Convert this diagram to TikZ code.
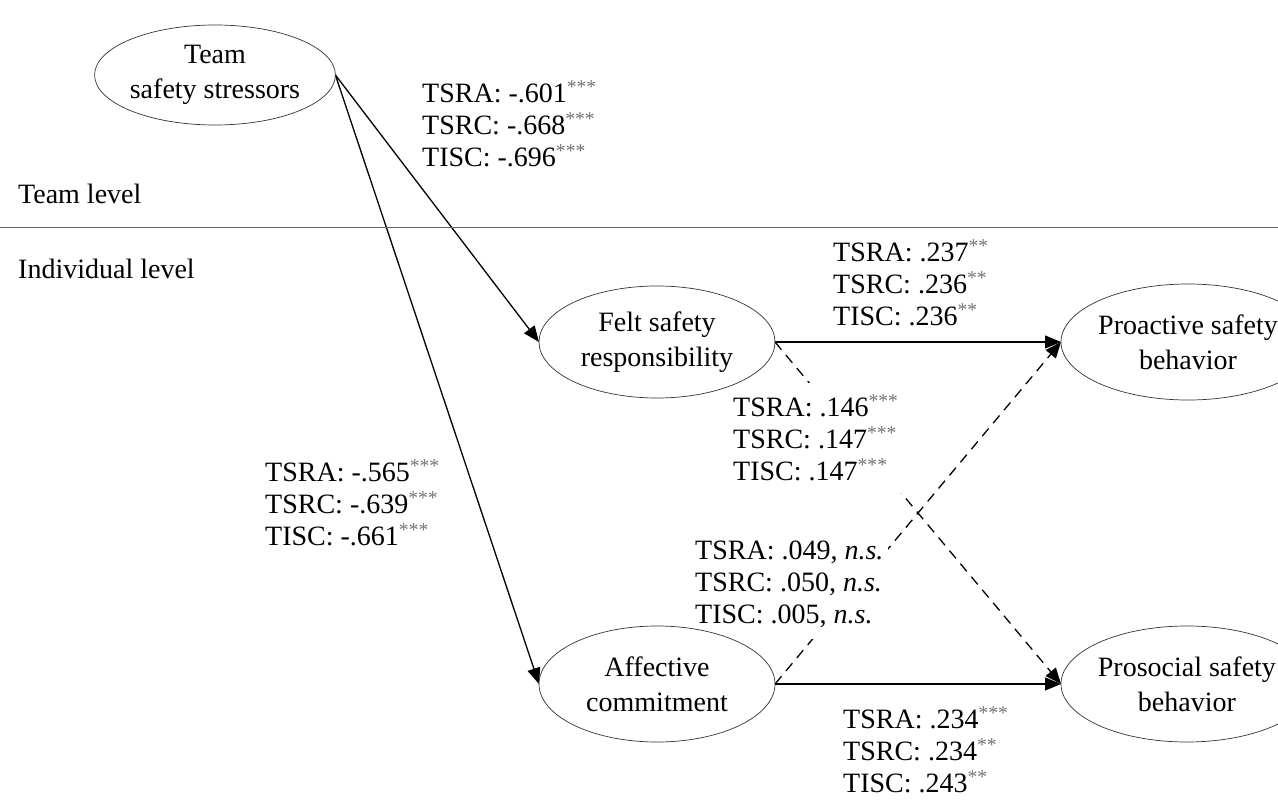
\documentclass[tikz,border=0pt]{standalone}
\usepackage{fontspec}
\setmainfont{Liberation Serif}
\usetikzlibrary{shapes.geometric, arrows.meta, positioning}

\pgfdeclarelayer{edges}
\pgfsetlayers{edges,main}

\newcommand{\sig}[1]{\textsuperscript{\textcolor{black!55}{#1}}}

\begin{document}
\begin{tikzpicture}[x=1pt, y=-1pt,
      font=\fontsize{28}{35}\selectfont,
      factor/.style={ellipse, draw=black!80, line width=0.7pt, align=center, inner sep=0pt, outer sep=0pt, minimum width=236pt, minimum height=112pt},
      coef/.style={align=left, fill=white, inner xsep=5pt, inner ysep=12pt, anchor=west, font=\fontsize{28}{32}\selectfont},
      path/.style={-{Triangle[length=16pt, width=13pt]}, line width=1.3pt},
      nspath/.style={path, dash pattern=on 10pt off 7pt}
    ]
    \useasboundingbox (0,0) rectangle (1278,802);

    % levels
    \draw[black!60, line width=1pt] (0,228) -- (1278,228);
    \node[anchor=west, inner sep=0pt] (teamlvl) at (18,194) {Team level};
    \node[anchor=west, inner sep=0pt] (indlvl) at (18,269) {Individual level};

    % coefficients (white boxes hide the paths)
    \node[coef] (c1) at (417,124) {TSRA: -.601\sig{***}\\TSRC: -.668\sig{***}\\TISC: -.696\sig{***}};
    \node[coef] (c2) at (260,503) {TSRA: -.565\sig{***}\\TSRC: -.639\sig{***}\\TISC: -.661\sig{***}};
    \node[coef] (c3) at (828,283) {TSRA: .237\sig{**}\\TSRC: .236\sig{**}\\TISC: .236\sig{**}};
    \node[coef] (c4) at (728,438) {TSRA: .146\sig{***}\\TSRC: .147\sig{***}\\TISC: .147\sig{***}};
    \node[coef] (c5) at (690,584) {TSRA: .049, \textit{n.s.}\\TSRC: .050, \textit{n.s.}\\TISC: .005, \textit{n.s.}};
    \node[coef] (c6) at (838,750) {TSRA: .234\sig{***}\\TSRC: .234\sig{**}\\TISC: .243\sig{**}};

    % constructs
    \node[factor, minimum height=100pt] (tss) at (215,75) {Team\\safety stressors};
    \node[factor] (fsr) at (657,342) {Felt safety\\responsibility};
    \node[factor, minimum height=116pt, below=228pt of fsr] (ac) {Affective\\commitment};
    \node[factor, minimum height=116pt, right=286pt of fsr] (psb) {Proactive safety\\behavior};
    \node[factor, minimum height=116pt, right=286pt of ac] (ssb) {Prosocial safety\\behavior};

    % paths
    \begin{pgfonlayer}{edges}
      \draw[path] (tss.east) -- (fsr.west);
      \draw[path] (tss.east) -- (ac.west);
      \draw[path] (fsr.east) -- (psb.west);
      \draw[path] (ac.east) -- (ssb.west);
      \draw[nspath] (fsr.east) -- (ssb.west);
      \draw[nspath] (ac.east) -- (psb.west);
    \end{pgfonlayer}
  \end{tikzpicture}
\end{document}
